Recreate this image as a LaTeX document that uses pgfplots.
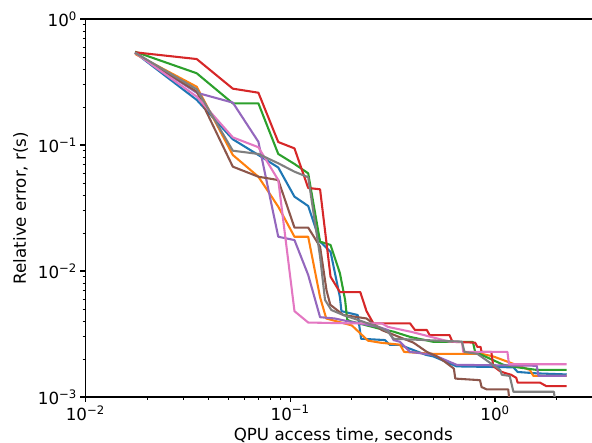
\documentclass[border=0pt]{standalone}
\usepackage{fontspec}
\setmainfont{DejaVu Sans}
\usepackage{pgfplots}
\pgfplotsset{compat=1.18}
\definecolor{C0}{HTML}{1F77B4}
\definecolor{C1}{HTML}{FF7F0E}
\definecolor{C2}{HTML}{2CA02C}
\definecolor{C3}{HTML}{D62728}
\definecolor{C4}{HTML}{9467BD}
\definecolor{C5}{HTML}{8C564B}
\definecolor{C6}{HTML}{E377C2}
\definecolor{C7}{HTML}{7F7F7F}
\begin{document}
\begin{tikzpicture}
\begin{axis}[
  scale only axis, width=515.9pt, height=378pt,
  xmode=log, ymode=log,
  xmin=0.01, xmax=3.3, ymin=0.001, ymax=1,
  axis x line=box, axis y line*=left, axis line style={-, line width=1.1pt},
  xtick pos=bottom, ytick pos=left,
  tick align=outside,
  major tick length=4.9pt, minor tick length=2.8pt,
  every tick/.style={line width=1.1pt, black},
  minor tick style={line width=0.8pt, black},
  xtick={0.01,0.1,1},
  xticklabels={10\textsuperscript{−2},10\textsuperscript{−1},10\textsuperscript{0}},
  minor xtick={0.02,0.03,0.04,0.05,0.06,0.07,0.08,0.09,0.2,0.3,0.4,0.5,0.6,0.7,0.8,0.9,2,3},
  ytick={0.001,0.01,0.1,1},
  yticklabels={10\textsuperscript{−3},10\textsuperscript{−2},10\textsuperscript{−1},10\textsuperscript{0}},
  minor ytick={0.002,0.003,0.004,0.005,0.006,0.007,0.008,0.009,0.02,0.03,0.04,0.05,0.06,0.07,0.08,0.09,0.2,0.3,0.4,0.5,0.6,0.7,0.8,0.9},
  tick label style={font=\fontsize{16.7}{19}\selectfont},
  label style={font=\fontsize{16.7}{19}\selectfont},
  xlabel={QPU access time, seconds},
  ylabel={Relative error, r(s)},
  ylabel style={yshift=3pt},
  every axis plot/.append style={line width=2.08pt, no markers, line join=round},
  clip=true,
]
% blue
\addplot[C0] coordinates {(0.0175,0.54)(0.035,0.228)(0.0525,0.111)(0.07,0.0833)(0.0875,0.0663)(0.105,0.0389)(0.1225,0.0328)(0.14,0.0171)(0.1575,0.0142)(0.175,0.0062)(0.178,0.0048)(0.214,0.00447)(0.222,0.0029)(0.29,0.00283)(0.307,0.00259)(0.344,0.00259)(0.46,0.00216)(0.5,0.0021)(0.65,0.00175)(1.23,0.00172)(1.29,0.00158)(1.6,0.00154)(2.24,0.00151)};
% orange
\addplot[C1] coordinates {(0.0175,0.528)(0.035,0.29)(0.0525,0.0833)(0.07,0.056)(0.0875,0.0324)(0.105,0.0187)(0.1225,0.0187)(0.14,0.0062)(0.15,0.0042)(0.2,0.0037)(0.24,0.0028)(0.275,0.0027)(0.344,0.0026)(0.36,0.00228)(0.5,0.0022)(0.86,0.0022)(0.98,0.0021)(1.48,0.00164)(1.54,0.00147)(2.24,0.00147)};
% green
\addplot[C2] coordinates {(0.0175,0.55)(0.035,0.371)(0.0525,0.214)(0.07,0.214)(0.0875,0.0849)(0.105,0.0707)(0.1225,0.0596)(0.14,0.0171)(0.1575,0.0161)(0.175,0.0096)(0.1855,0.0059)(0.19,0.0041)(0.196,0.004)(0.27,0.0035)(0.32,0.0033)(0.385,0.003)(0.5,0.00274)(0.78,0.00274)(0.8,0.00228)(0.86,0.00216)(1.1,0.0018)(1.29,0.00172)(1.6,0.00164)(2.24,0.00164)};
% red
\addplot[C3] coordinates {(0.0175,0.544)(0.035,0.481)(0.0525,0.28)(0.07,0.26)(0.0875,0.1056)(0.105,0.094)(0.1225,0.0456)(0.14,0.0445)(0.1575,0.00901)(0.175,0.0068)(0.22,0.0068)(0.236,0.0048)(0.255,0.00384)(0.385,0.00384)(0.407,0.0034)(0.465,0.0034)(0.48,0.0031)(0.6,0.0031)(0.62,0.00274)(0.8,0.0027)(0.82,0.0025)(0.85,0.0025)(0.86,0.00228)(0.96,0.00228)(0.98,0.00176)(1.06,0.0016)(1.12,0.00155)(1.2,0.0015)(1.27,0.00142)(1.29,0.0013)(1.66,0.0013)(1.78,0.00122)(2.24,0.00122)};
% purple
\addplot[C4] coordinates {(0.0175,0.54)(0.035,0.26)(0.0525,0.217)(0.07,0.106)(0.0875,0.0187)(0.105,0.0176)(0.1225,0.0093)(0.14,0.0043)(0.165,0.0042)(0.19,0.004)(0.27,0.0036)(0.3,0.0034)(0.32,0.00283)(0.344,0.00274)(0.385,0.00228)(0.5,0.00216)(0.65,0.0018)(1.6,0.00177)(1.63,0.00147)(2.24,0.00147)};
% brown
\addplot[C5] coordinates {(0.0175,0.54)(0.035,0.265)(0.0525,0.0673)(0.07,0.056)(0.0875,0.0527)(0.105,0.0221)(0.1225,0.0221)(0.14,0.0156)(0.1506,0.0070)(0.157,0.0054)(0.182,0.00447)(0.236,0.0042)(0.28,0.0034)(0.4,0.0027)(0.465,0.00228)(0.52,0.0021)(0.57,0.0019)(0.63,0.00168)(0.64,0.0014)(0.845,0.00136)(0.86,0.0012)(0.91,0.00115)(1.16,0.00115)(1.18,0.0009)};
% pink
\addplot[C6] coordinates {(0.0175,0.54)(0.035,0.242)(0.0525,0.115)(0.07,0.096)(0.0875,0.0527)(0.105,0.0048)(0.1225,0.0039)(0.2,0.00384)(0.28,0.00384)(0.3,0.0036)(0.39,0.00329)(0.6,0.00275)(0.69,0.00274)(0.70,0.00228)(1.15,0.00228)(1.17,0.00182)(2.24,0.00182)};
% gray
\addplot[C7] coordinates {(0.0175,0.54)(0.035,0.277)(0.0525,0.0901)(0.07,0.0849)(0.0875,0.0716)(0.105,0.0614)(0.1225,0.0555)(0.14,0.013)(0.148,0.0059)(0.159,0.0049)(0.182,0.00447)(0.27,0.0036)(0.3,0.0033)(0.32,0.0029)(0.69,0.00275)(0.71,0.00228)(0.82,0.0022)(1.06,0.00164)(1.08,0.0015)(1.18,0.00147)(1.23,0.0011)(1.94,0.0011)(1.97,0.0009)};
\end{axis}
\pgfresetboundingbox
\path[use as bounding box] (-85.3pt,-46pt) rectangle (506.7pt,397pt);
\end{tikzpicture}
\end{document}
